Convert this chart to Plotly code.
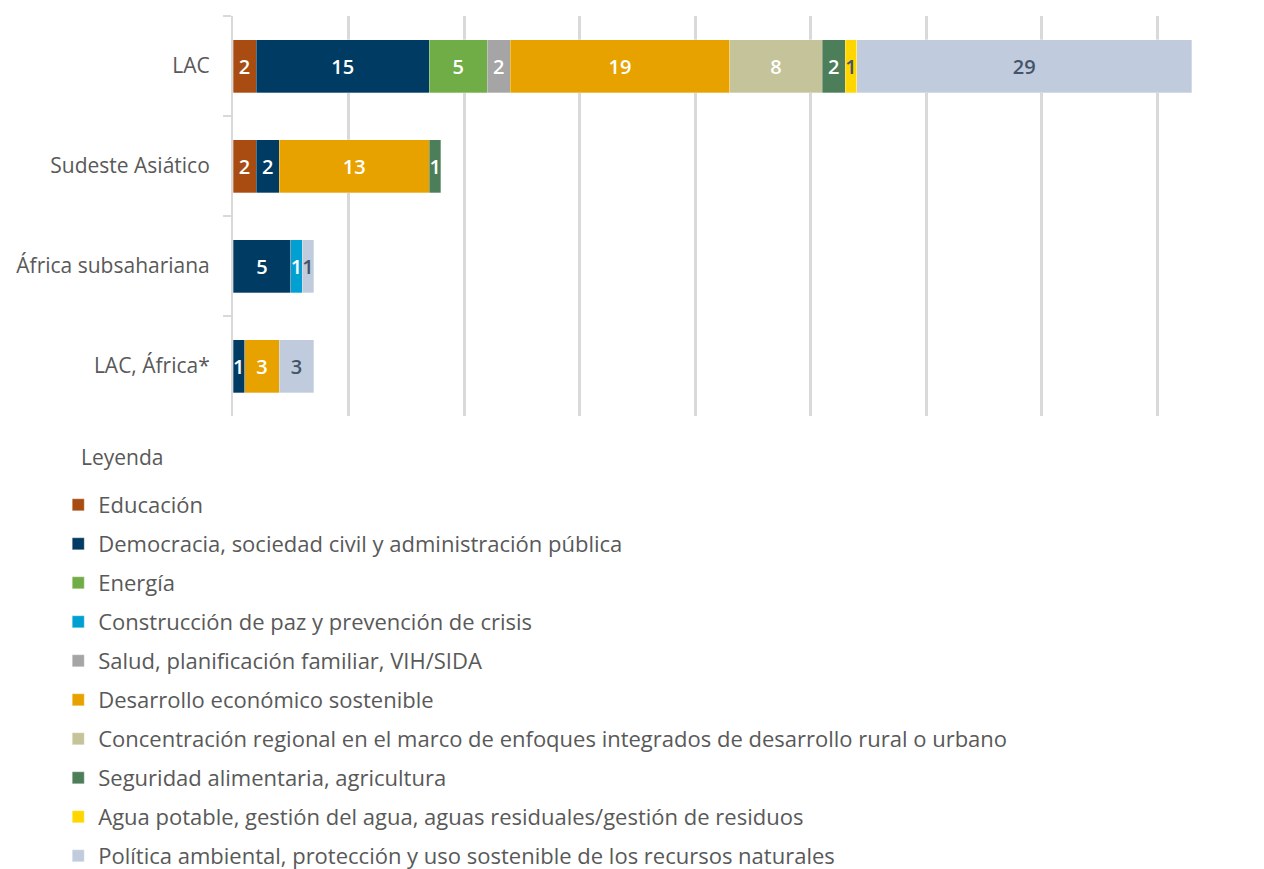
import plotly.graph_objects as go

regions = ["LAC", "Sudeste Asiático", "África subsahariana", "LAC, África*"]

series_names = [
    "Educación",
    "Democracia, sociedad civil y administración pública",
    "Energía",
    "Construcción de paz y prevención de crisis",
    "Salud, planificación familiar, VIH/SIDA",
    "Desarrollo económico sostenible",
    "Concentración regional en el marco de enfoques integrados de desarrollo rural o urbano",
    "Seguridad alimentaria, agricultura",
    "Agua potable, gestión del agua, aguas residuales/gestión de residuos",
    "Política ambiental, protección y uso sostenible de los recursos naturales",
]

educacion = [2, 2, None, None]
democracia = [15, 2, 5, 1]
energia = [5, None, None, None]
paz = [None, None, 1, None]
salud = [2, None, None, None]
desarrollo = [19, 13, None, 3]
concentracion = [8, None, None, None]
seguridad = [2, 1, None, None]
agua = [1, None, None, None]
politica = [29, None, 1, 3]

series_values = [educacion, democracia, energia, paz, salud, desarrollo,
                 concentracion, seguridad, agua, politica]

colors = ["#A84C12", "#003B63", "#70AD47", "#00A0D2", "#A5A5A5",
          "#E8A200", "#C4C39A", "#4C7F59", "#FFD600", "#C0CCDD"]
text_colors = ["#FFFFFF", "#FFFFFF", "#FFFFFF", "#FFFFFF", "#FFFFFF",
               "#FFFFFF", "#FFFFFF", "#FFFFFF", "#44546A", "#44546A"]

FONT = "Open Sans"

fig = go.Figure()
for i, (name, vals) in enumerate(zip(series_names, series_values)):
    fig.add_trace(go.Bar(
        y=regions, x=vals, name=name, orientation="h",
        marker=dict(color=colors[i], line=dict(width=0.5, color="rgba(255,255,255,0.6)")),
        text=[("" if v is None else str(v)) for v in vals],
        textposition="inside", insidetextanchor="middle", textangle=0,
        textfont=dict(family=FONT, size=20, color=text_colors[i], weight=600),
        legendgroup=str(i),
        hoverinfo="skip",
    ))

fig.add_annotation(
    text="Leyenda", xref="paper", yref="paper",
    x=-0.1495, y=-0.1025, xanchor="left", yanchor="middle",
    showarrow=False, font=dict(family=FONT, size=21, color="#595959"),
)

fig.update_layout(
    barmode="stack",
    bargap=0.47,
    width=1264, height=900,
    margin=dict(l=223, r=11, t=8, b=492),
    plot_bgcolor="white", paper_bgcolor="white",
    font=dict(family=FONT, size=22, color="#595959"),
    uniformtext=dict(minsize=20, mode="show"),
    showlegend=True,
    legend=dict(
        x=-0.170, xanchor="left", y=-0.17, yanchor="top",
        traceorder="grouped", tracegroupgap=7.4,
        font=dict(family=FONT, size=22, color="#595959"),
        bgcolor="rgba(0,0,0,0)",
    ),
    xaxis=dict(range=[0, 89], dtick=10, showgrid=True, gridcolor="#D9D9D9",
               gridwidth=3, showticklabels=False, zeroline=False,
               showline=False, ticks=""),
    yaxis=dict(categoryorder="array", categoryarray=regions, autorange="reversed",
               showline=True, linecolor="#D9D9D9", linewidth=2,
               ticks="outside", tickson="boundaries", ticklen=8,
               tickcolor="#D9D9D9", tickwidth=2, ticklabelstandoff=17,
               tickfont=dict(family=FONT, size=21, color="#595959")),
)

fig.write_html("out.html")
